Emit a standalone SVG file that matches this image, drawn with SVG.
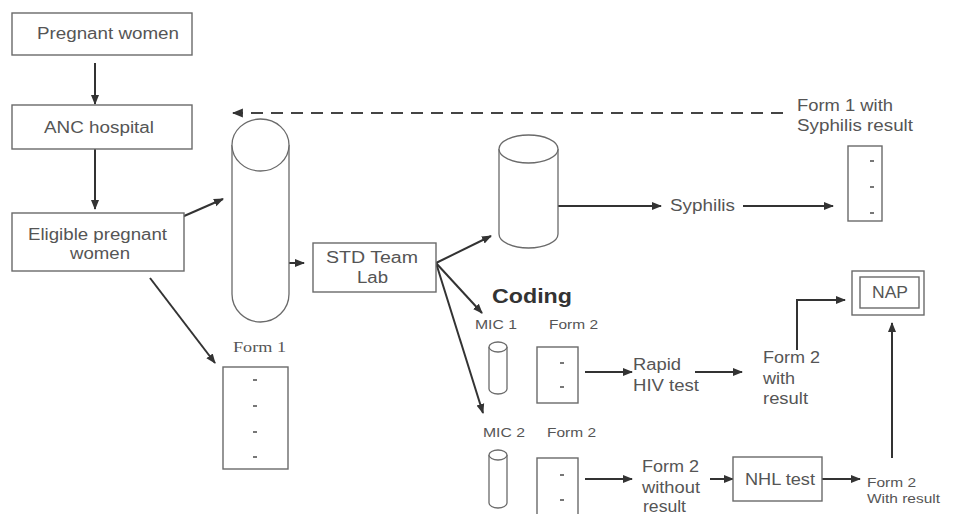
<svg xmlns="http://www.w3.org/2000/svg" width="958" height="514" viewBox="0 0 958 514">
  <style>
    .box { fill: #fff; stroke: #6a6a6a; stroke-width: 1.4; }
    .shape { fill: #fff; stroke: #6a6a6a; stroke-width: 1.3; }
    .lbl { font-family: "Liberation Sans", Arial, sans-serif; font-size: 16px; fill: #555; }
    .sm { font-family: "Liberation Sans", Arial, sans-serif; font-size: 13px; fill: #555; }
    .serif { font-family: "Liberation Serif", "Times New Roman", serif; font-size: 14px; fill: #555; }
    .bold { font-family: "Liberation Sans", Arial, sans-serif; font-size: 21px; font-weight: bold; fill: #333; }
    .arr { fill: none; stroke: #333; stroke-width: 2; marker-end: url(#head); }
    .dash { fill: none; stroke: #444; stroke-width: 2.2; stroke-dasharray: 12 8; marker-end: url(#head); }
    .tick { stroke: #555; stroke-width: 1.6; }
  </style>
  <defs>
    <marker id="head" viewBox="0 0 10 10" refX="9" refY="5" markerWidth="5" markerHeight="5" orient="auto" markerUnits="strokeWidth">
      <path d="M0,1 L10,5 L0,9 Z" fill="#333"/>
    </marker>
  </defs>
  <rect width="958" height="514" fill="#fff"/>

  <!-- connectors -->
  <g id="connectors">
    <line class="arr" x1="95" y1="63" x2="95" y2="104"/>
    <line class="arr" x1="95" y1="149" x2="95" y2="209"/>
    <line class="arr" x1="175" y1="220" x2="223" y2="199"/>
    <line class="arr" x1="150" y1="278" x2="215" y2="363"/>
    <line class="arr" x1="257" y1="263" x2="304" y2="263"/>
    <line class="dash" x1="783" y1="113" x2="233" y2="113"/>
    <line class="arr" x1="436" y1="263" x2="491" y2="236"/>
    <line class="arr" x1="436" y1="263" x2="482" y2="313"/>
    <line class="arr" x1="436" y1="263" x2="483" y2="413"/>
    <line class="arr" x1="558" y1="206" x2="661" y2="206"/>
    <line class="arr" x1="743" y1="206" x2="833" y2="206"/>
    <line class="arr" x1="585" y1="372" x2="632" y2="372"/>
    <line class="arr" x1="695" y1="372" x2="742" y2="372"/>
    <polyline class="arr" points="797,350 797,300 845,300"/>
    <line class="arr" x1="585" y1="479" x2="632" y2="479"/>
    <line class="arr" x1="710" y1="479" x2="733" y2="479"/>
    <line class="arr" x1="822" y1="479" x2="860" y2="479"/>
    <line class="arr" x1="892" y1="458" x2="892" y2="323"/>
  </g>

  <g id="pregnant-women">
    <rect class="box" x="12" y="13" width="180" height="42"/>
    <text class="lbl" x="37" y="39" textLength="142" lengthAdjust="spacingAndGlyphs">Pregnant women</text>
  </g>

  <g id="anc-hospital">
    <rect class="box" x="12" y="105" width="180" height="44"/>
    <text class="lbl" x="44" y="133" textLength="110" lengthAdjust="spacingAndGlyphs">ANC hospital</text>
  </g>

  <g id="eligible-women">
    <rect class="box" x="12" y="213" width="172" height="58"/>
    <text class="lbl" x="28" y="240" textLength="139" lengthAdjust="spacingAndGlyphs">Eligible pregnant</text>
    <text class="lbl" x="70" y="259" textLength="60" lengthAdjust="spacingAndGlyphs">women</text>
  </g>

  <g id="sample-tube">
    <path class="shape" d="M232,145 L232,294 A28.5,28 0 0 0 289,294 L289,145"/>
    <ellipse class="shape" cx="260.5" cy="145" rx="28.5" ry="26"/>
  </g>

  <g id="form-1">
    <text class="serif" x="233" y="352" textLength="53" lengthAdjust="spacingAndGlyphs">Form 1</text>
    <rect class="box" x="223" y="367" width="65" height="102"/>
    <line class="tick" x1="253" y1="380" x2="257" y2="380"/>
    <line class="tick" x1="253" y1="406" x2="257" y2="406"/>
    <line class="tick" x1="253" y1="432" x2="257" y2="432"/>
    <line class="tick" x1="253" y1="457" x2="257" y2="457"/>
  </g>

  <g id="std-team-lab">
    <rect class="box" x="313" y="243" width="123" height="49"/>
    <text class="lbl" x="326" y="263" textLength="92" lengthAdjust="spacingAndGlyphs">STD Team</text>
    <text class="lbl" x="357" y="283" textLength="31" lengthAdjust="spacingAndGlyphs">Lab</text>
  </g>

  <g id="serum-tube">
    <path class="shape" d="M499,149 L499,234 A29.5,14 0 0 0 558,234 L558,149"/>
    <ellipse class="shape" cx="528.5" cy="149" rx="29.5" ry="14"/>
  </g>

  <g id="syphilis">
    <text class="lbl" x="670" y="211" textLength="65" lengthAdjust="spacingAndGlyphs">Syphilis</text>
  </g>

  <g id="form-1-result">
    <text class="lbl" x="797" y="111" textLength="96" lengthAdjust="spacingAndGlyphs">Form 1 with</text>
    <text class="lbl" x="797" y="131" textLength="116" lengthAdjust="spacingAndGlyphs">Syphilis result</text>
    <rect class="box" x="848" y="146" width="34" height="75"/>
    <line class="tick" x1="870" y1="161" x2="874" y2="161"/>
    <line class="tick" x1="870" y1="187" x2="874" y2="187"/>
    <line class="tick" x1="870" y1="213" x2="874" y2="213"/>
  </g>

  <g id="coding">
    <text class="bold" x="492" y="303" textLength="80" lengthAdjust="spacingAndGlyphs">Coding</text>
  </g>

  <g id="mic-1">
    <text class="sm" x="475" y="329" textLength="42" lengthAdjust="spacingAndGlyphs">MIC 1</text>
    <path class="shape" d="M489,347 L489,389 A9,5 0 0 0 507,389 L507,347"/>
    <ellipse class="shape" cx="498" cy="347" rx="9" ry="5"/>
  </g>

  <g id="form-2-a">
    <text class="sm" x="549" y="329" textLength="49" lengthAdjust="spacingAndGlyphs">Form 2</text>
    <rect class="box" x="537" y="347" width="41" height="56"/>
    <line class="tick" x1="560" y1="363" x2="564" y2="363"/>
    <line class="tick" x1="560" y1="387" x2="564" y2="387"/>
  </g>

  <g id="rapid-hiv-test">
    <text class="lbl" x="633" y="370" textLength="48" lengthAdjust="spacingAndGlyphs">Rapid</text>
    <text class="lbl" x="633" y="391" textLength="66" lengthAdjust="spacingAndGlyphs">HIV test</text>
  </g>

  <g id="form-2-with-result">
    <text class="lbl" x="763" y="363" textLength="57" lengthAdjust="spacingAndGlyphs">Form 2</text>
    <text class="lbl" x="763" y="384" textLength="32" lengthAdjust="spacingAndGlyphs">with</text>
    <text class="lbl" x="763" y="404" textLength="45" lengthAdjust="spacingAndGlyphs">result</text>
  </g>

  <g id="nap">
    <rect class="box" x="852" y="271" width="72" height="44"/>
    <rect class="box" x="860" y="277" width="59" height="31"/>
    <text class="lbl" x="872" y="298" textLength="36" lengthAdjust="spacingAndGlyphs">NAP</text>
  </g>

  <g id="mic-2">
    <text class="sm" x="483" y="437" textLength="42" lengthAdjust="spacingAndGlyphs">MIC 2</text>
    <path class="shape" d="M489,455 L489,503 A9,5 0 0 0 507,503 L507,455"/>
    <ellipse class="shape" cx="498" cy="455" rx="9" ry="5"/>
  </g>

  <g id="form-2-b">
    <text class="sm" x="547" y="437" textLength="49" lengthAdjust="spacingAndGlyphs">Form 2</text>
    <rect class="box" x="537" y="458" width="41" height="62"/>
    <line class="tick" x1="560" y1="475" x2="564" y2="475"/>
    <line class="tick" x1="560" y1="500" x2="564" y2="500"/>
  </g>

  <g id="form-2-without-result">
    <text class="lbl" x="642" y="472" textLength="57" lengthAdjust="spacingAndGlyphs">Form 2</text>
    <text class="lbl" x="642" y="493" textLength="58" lengthAdjust="spacingAndGlyphs">without</text>
    <text class="lbl" x="643" y="512" textLength="43" lengthAdjust="spacingAndGlyphs">result</text>
  </g>

  <g id="nhl-test">
    <rect class="box" x="733" y="457" width="89" height="44"/>
    <text class="lbl" x="745" y="485" textLength="70" lengthAdjust="spacingAndGlyphs">NHL test</text>
  </g>

  <g id="form-2-final">
    <text class="sm" x="867" y="487" textLength="49" lengthAdjust="spacingAndGlyphs">Form 2</text>
    <text class="sm" x="867" y="503" textLength="73" lengthAdjust="spacingAndGlyphs">With result</text>
  </g>
</svg>
